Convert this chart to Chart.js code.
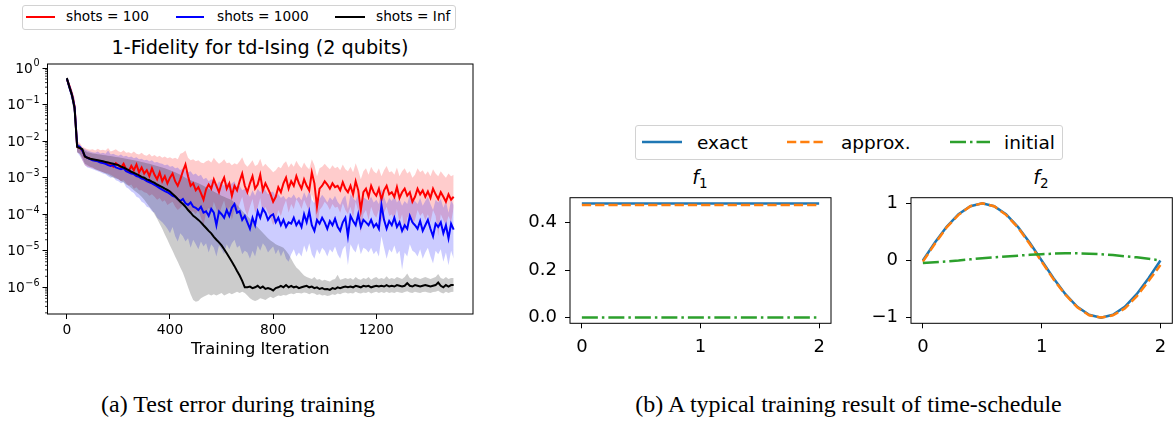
<!DOCTYPE html>
<html><head><meta charset="utf-8">
<script src="https://cdn.jsdelivr.net/npm/chart.js@4.4.1/dist/chart.umd.min.js"></script>
<style>
html,body{margin:0;padding:0;background:#fff;}
body{width:1175px;height:421px;position:relative;overflow:hidden;font-family:'DejaVu Sans',sans-serif;color:#000;}
.leg{position:absolute;box-sizing:border-box;border:1px solid #d2d2d2;border-radius:3px;background:#fff;}
.t{position:absolute;white-space:nowrap;}
.sw{position:absolute;overflow:visible;}
canvas{position:absolute;}
.cap{position:absolute;white-space:nowrap;font-family:'Liberation Serif','Times New Roman',serif;font-size:24px;line-height:27px;text-align:center;}
sub{font-size:13.5px;vertical-align:-0.3em;line-height:0;font-style:normal;}
</style></head><body>

<!-- left legend -->
<div class="leg" style="left:22px;top:5px;width:434px;height:25px;"></div>
<svg class="sw" style="left:26px;top:12px" width="30" height="10"><line x1="0" y1="5" x2="29" y2="5" stroke="#ff0000" stroke-width="2"/></svg>
<div class="t" style="left:66px;top:8px;font-size:13.7px;line-height:16px">shots = 100</div>
<svg class="sw" style="left:176px;top:12px" width="30" height="10"><line x1="0" y1="5" x2="28" y2="5" stroke="#0000ff" stroke-width="2"/></svg>
<div class="t" style="left:217px;top:8px;font-size:13.7px;line-height:16px">shots = 1000</div>
<svg class="sw" style="left:335px;top:12px" width="32" height="10"><line x1="0" y1="5" x2="30" y2="5" stroke="#000000" stroke-width="2"/></svg>
<div class="t" style="left:376px;top:8px;font-size:13.7px;line-height:16px">shots = Inf</div>

<div class="t" style="left:0;width:520px;text-align:center;top:37px;font-size:19.2px;line-height:22px">1-Fidelity for td-Ising (2 qubits)</div>

<!-- right legend -->
<div class="leg" style="left:635px;top:125px;width:428px;height:35px;"></div>
<svg class="sw" style="left:642px;top:137px" width="42" height="10"><line x1="0" y1="5" x2="40" y2="5" stroke="#1f77b4" stroke-width="2.5"/></svg>
<div class="t" style="left:697px;top:132px;font-size:18.5px;line-height:22px">exact</div>
<svg class="sw" style="left:787px;top:137px" width="42" height="10"><line x1="0" y1="5" x2="38.5" y2="5" stroke="#ff7f0e" stroke-width="2.5" stroke-dasharray="9.25 4"/></svg>
<div class="t" style="left:841px;top:132px;font-size:18.5px;line-height:22px">approx.</div>
<svg class="sw" style="left:950px;top:137px" width="42" height="10"><line x1="0" y1="5" x2="40" y2="5" stroke="#2ca02c" stroke-width="2.5" stroke-dasharray="16 4 2.5 4"/></svg>
<div class="t" style="left:1004px;top:132px;font-size:18.5px;line-height:22px">initial</div>

<div class="t" style="left:650px;width:100px;text-align:center;top:166px;font-size:19px;line-height:22px"><i>f</i><sub>1</sub></div>
<div class="t" style="left:991px;width:100px;text-align:center;top:166px;font-size:19px;line-height:22px"><i>f</i><sub>2</sub></div>

<canvas id="cA" width="480" height="360" style="left:0;top:0"></canvas>
<canvas id="cB" width="335" height="190" style="left:505px;top:175px"></canvas>
<canvas id="cC" width="315" height="190" style="left:860px;top:175px"></canvas>

<div class="cap" style="left:0;width:476px;top:391px">(a) Test error during training</div>
<div class="cap" style="left:600px;width:497px;top:391px">(b) A typical training result of time-schedule</div>

<script>
// ---------------- data: (a) 1-Fidelity vs training iteration ----------------
const iterations = [
0,10,20,30,40,50,60,70,80,90,
100,110,120,130,140,150,160,170,180,190,
200,210,220,230,240,250,260,270,280,290,
300,310,320,330,340,350,360,370,380,390,
400,410,420,430,440,450,460,470,480,490,
500,510,520,530,540,550,560,570,580,590,
600,610,620,630,640,650,660,670,680,690,
700,710,720,730,740,750,760,770,780,790,
800,810,820,830,840,850,860,870,880,890,
900,910,920,930,940,950,960,970,980,990,
1000,1010,1020,1030,1040,1050,1060,1070,1080,1090,
1100,1110,1120,1130,1140,1150,1160,1170,1180,1190,
1200,1210,1220,1230,1240,1250,1260,1270,1280,1290,
1300,1310,1320,1330,1340,1350,1360,1370,1380,1390,
1400,1410,1420,1430,1440,1450,1460,1470,1480,1490,
1500];

const shots100Mean = [
5.0e-1,3.2e-1,1.9e-1,9e-2,7.0e-3,6.5e-3,5.5e-3,3.8e-3,3.5e-3,3.3e-3,
3.1e-3,3.0e-3,2.9e-3,2.7e-3,2.6e-3,2.5e-3,2.3e-3,2.4e-3,2.0e-3,2.5e-3,
2.2e-3,1.9e-3,2.4e-3,1.7e-3,1.5e-3,2.1e-3,1.6e-3,2.3e-3,1.4e-3,1.9e-3,
1.3e-3,1.6e-3,1.1e-3,1.8e-3,1.2e-3,9e-4,1.4e-3,8e-4,1.1e-3,7e-4,
1.0e-3,1.3e-3,8e-4,6e-4,9e-4,1.5e-3,2.3e-3,1.1e-3,6e-4,7e-4,
4.5e-4,5.5e-4,3.8e-4,2.5e-4,4.8e-4,6.5e-4,5e-4,9e-4,6e-4,4e-4,
7e-4,1.0e-3,5e-4,7e-4,3.2e-4,6e-4,4.5e-4,8e-4,1.3e-3,6e-4,
4e-4,7e-4,1.1e-3,5e-4,6.5e-4,1.2e-3,4.5e-4,7e-4,5e-4,3.5e-4,
2.2e-4,3e-4,5.5e-4,4e-4,7e-4,1.0e-3,5e-4,8e-4,6e-4,1.1e-3,
7e-4,5e-4,9e-4,6e-4,4.5e-4,1.4e-3,7e-4,1.6e-4,5e-4,6e-4,
8e-4,6.5e-4,5e-4,7e-4,5.5e-4,6e-4,4.5e-4,7.5e-4,5e-4,4e-4,
6e-4,3.5e-4,8e-4,4.5e-4,1.3e-4,4e-4,5e-4,3e-4,6e-4,4e-4,
3.2e-4,5e-4,2.5e-4,4.5e-4,6e-4,3.5e-4,4e-4,3e-4,5.5e-4,2.8e-4,
4e-4,5e-4,3.2e-4,4e-4,2.2e-4,3e-4,5e-4,3.5e-4,4.5e-4,3e-4,
4.2e-4,2.8e-4,5e-4,3.5e-4,2.6e-4,4e-4,3e-4,2.2e-4,3.5e-4,2.5e-4,
3e-4];
const shots100Upper = [
6e-1,4e-1,2.6e-1,1.5e-1,1.0e-2,9e-3,7e-3,6.5e-3,6e-3,5.8e-3,
6e-3,5.5e-3,6.2e-3,5.6e-3,5.8e-3,5.5e-3,6.5e-3,5.2e-3,5.5e-3,6e-3,
5.3e-3,5e-3,5.6e-3,4.8e-3,5e-3,4.6e-3,5.2e-3,4.5e-3,4.3e-3,4.8e-3,
4.2e-3,4e-3,4.5e-3,3.8e-3,4.2e-3,3.7e-3,4e-3,3.5e-3,3.8e-3,3.4e-3,
3.6e-3,3.3e-3,3.5e-3,3.2e-3,4.5e-3,4.8e-3,5.5e-3,3.5e-3,3e-3,3.2e-3,
2.8e-3,3e-3,2.6e-3,2.5e-3,2.8e-3,3e-3,2.6e-3,3.5e-3,2.8e-3,2.4e-3,
2.7e-3,3.2e-3,2.5e-3,2.6e-3,2.2e-3,2.5e-3,2.3e-3,2.8e-3,3.6e-3,2.4e-3,
2e-3,2.4e-3,3e-3,2.1e-3,2.3e-3,3.3e-3,2e-3,2.4e-3,2e-3,1.7e-3,
1.4e-3,1.6e-3,2e-3,1.8e-3,2.4e-3,2.8e-3,1.9e-3,2.5e-3,2e-3,2.9e-3,
2.2e-3,1.8e-3,2.6e-3,2e-3,1.7e-3,3.2e-3,2.2e-3,1.1e-3,1.8e-3,2e-3,
2.4e-3,2e-3,1.7e-3,2.2e-3,1.8e-3,2e-3,1.6e-3,2.3e-3,1.7e-3,1.5e-3,
2e-3,1.4e-3,2.5e-3,1.6e-3,9e-4,1.5e-3,1.8e-3,1.2e-3,2e-3,1.5e-3,
1.3e-3,1.8e-3,1.1e-3,1.6e-3,2.1e-3,1.4e-3,1.5e-3,1.2e-3,1.9e-3,1.1e-3,
1.5e-3,1.8e-3,1.3e-3,1.5e-3,1e-3,1.2e-3,1.8e-3,1.4e-3,1.6e-3,1.2e-3,
1.5e-3,1.1e-3,1.7e-3,1.3e-3,1.1e-3,1.5e-3,1.2e-3,1e-3,1.3e-3,1.1e-3,
1.2e-3];
const shots100Lower = [
4e-1,2.5e-1,1.3e-1,5e-2,5e-3,4.5e-3,3e-3,2.2e-3,2e-3,1.9e-3,
1.8e-3,1.7e-3,1.6e-3,1.5e-3,1.4e-3,1.35e-3,1.3e-3,1.2e-3,1.1e-3,1.0e-3,
9e-4,8e-4,8.5e-4,7e-4,6e-4,6.5e-4,5e-4,5.5e-4,4.5e-4,4.5e-4,
4e-4,3.8e-4,3.2e-4,3.5e-4,3e-4,2.5e-4,2.8e-4,2.2e-4,2.4e-4,1.8e-4,
2e-4,2.2e-4,1.6e-4,1.3e-4,1.5e-4,1.8e-4,2e-4,1.4e-4,1.1e-4,1.2e-4,
1e-4,1.3e-4,8e-5,5e-5,1.1e-4,1.5e-4,1.1e-4,2.2e-4,1.4e-4,9e-5,
1.6e-4,2.4e-4,1.1e-4,1.6e-4,7e-5,1.4e-4,1e-4,1.9e-4,3e-4,1.4e-4,
9e-5,1.6e-4,2.6e-4,1.1e-4,1.5e-4,2.8e-4,1e-4,1.6e-4,1.1e-4,8e-5,
5e-5,7e-5,1.3e-4,9e-5,1.6e-4,2.4e-4,1.1e-4,1.9e-4,1.4e-4,2.6e-4,
2e-4,1.4e-4,2.5e-4,1.7e-4,1.2e-4,3.5e-4,1.9e-4,4e-5,1.3e-4,1.6e-4,
2.2e-4,1.8e-4,1.3e-4,1.9e-4,1.5e-4,1.6e-4,1.1e-4,2e-4,1.3e-4,1e-4,
1.6e-4,8e-5,2.2e-4,1.2e-4,3e-5,1e-4,1.3e-4,7e-5,1.6e-4,1e-4,
8e-5,1.3e-4,6e-5,1.1e-4,1.6e-4,9e-5,1e-4,7e-5,1.4e-4,6e-5,
1e-4,3e-5,8e-5,1e-4,5e-5,7e-5,1.3e-4,9e-5,1.1e-4,7e-5,
1e-4,6e-5,1.3e-4,9e-5,2.5e-5,1e-4,7e-5,5e-5,9e-5,6e-5,
1.5e-4];

const shots1000Mean = [
5.2e-1,3.0e-1,1.8e-1,8.5e-2,7.5e-3,7e-3,5.5e-3,3.9e-3,3.5e-3,3.2e-3,
3.0e-3,2.9e-3,2.8e-3,2.6e-3,2.5e-3,2.4e-3,2.2e-3,2.1e-3,2.2e-3,1.9e-3,
1.8e-3,1.7e-3,1.8e-3,1.5e-3,1.4e-3,1.3e-3,1.25e-3,1.1e-3,1.05e-3,9.5e-4,
9e-4,8e-4,7.5e-4,7e-4,6.3e-4,5.8e-4,5.2e-4,4.7e-4,4.3e-4,4e-4,
3.6e-4,3.2e-4,3.0e-4,2.6e-4,2.3e-4,2.6e-4,2e-4,1.8e-4,2.1e-4,1.6e-4,
1.5e-4,1.3e-4,1.6e-4,1.1e-4,1.2e-4,9e-5,1.4e-4,1.1e-4,5e-5,1.2e-4,
1.0e-4,8e-5,1.3e-4,9e-5,1.5e-4,1.9e-4,1.1e-4,1.2e-4,7e-5,9e-5,
6e-5,4e-5,8e-5,5e-5,1.2e-4,8e-5,1.4e-4,1.1e-4,7e-5,9e-5,
1.0e-4,6e-5,8e-5,5e-5,7e-5,4.5e-5,6e-5,5.5e-5,8e-5,5e-5,
6.5e-5,4.5e-5,1.0e-4,6e-5,1.2e-4,5e-5,3.5e-5,7e-5,5.5e-5,8e-5,
6e-5,4e-5,6.5e-5,5e-5,7.5e-5,4.5e-5,3.5e-5,6e-5,8e-5,2.5e-5,
9e-5,6.5e-5,5e-5,1.0e-4,4.5e-5,7e-5,6e-5,5e-5,7e-5,4.5e-5,
5.5e-5,4e-5,1.8e-4,7e-5,4e-5,6.5e-5,5e-5,8e-5,4.5e-5,6e-5,
3.5e-5,5e-5,4e-5,9e-5,6e-5,5e-5,4e-5,6.5e-5,3.5e-5,5e-5,
7e-5,4e-5,2.5e-5,5.5e-5,4.5e-5,6e-5,3e-5,5e-5,2.2e-5,5.5e-5,
3.8e-5];
const shots1000Upper = [
6e-1,4e-1,2.5e-1,1.4e-1,9e-3,8e-3,6.5e-3,6e-3,5.5e-3,5.2e-3,
5e-3,4.8e-3,5.2e-3,4.6e-3,4.8e-3,4.5e-3,5.5e-3,4.3e-3,4.5e-3,4.2e-3,
4e-3,4.3e-3,3.8e-3,4e-3,3.6e-3,3.8e-3,3.4e-3,3.6e-3,3.2e-3,3.3e-3,
3e-3,3.1e-3,2.8e-3,3e-3,2.6e-3,2.7e-3,2.5e-3,2.4e-3,2.2e-3,2.3e-3,
2e-3,2.1e-3,1.8e-3,1.9e-3,1.6e-3,1.8e-3,1.5e-3,1.4e-3,1.5e-3,1.2e-3,
1.3e-3,1.1e-3,1.2e-3,9e-4,1e-3,8e-4,9e-4,8.5e-4,6e-4,8e-4,
7e-4,6e-4,7.5e-4,6e-4,7e-4,8e-4,5.5e-4,6e-4,4.5e-4,5e-4,
4e-4,3e-4,4.5e-4,3.2e-4,5e-4,4e-4,5.5e-4,4.5e-4,3.5e-4,4e-4,
4.2e-4,3e-4,3.6e-4,2.8e-4,3.2e-4,2.5e-4,3e-4,2.8e-4,3.5e-4,2.6e-4,
3e-4,2.4e-4,4e-4,2.8e-4,4.5e-4,2.5e-4,2e-4,3e-4,2.6e-4,3.4e-4,
2.8e-4,2.1e-4,2.9e-4,2.4e-4,3.2e-4,2.2e-4,1.8e-4,2.7e-4,3.3e-4,1.4e-4,
3.6e-4,2.8e-4,2.3e-4,3.9e-4,2.1e-4,2.9e-4,2.6e-4,2.3e-4,3e-4,2.1e-4,
2.5e-4,1.9e-4,5e-4,3e-4,1.9e-4,2.8e-4,2.3e-4,3.3e-4,2.1e-4,2.6e-4,
1.7e-4,2.3e-4,1.9e-4,3.6e-4,2.6e-4,2.3e-4,1.9e-4,2.8e-4,1.7e-4,2.3e-4,
3e-4,1.9e-4,1.3e-4,2.5e-4,2.1e-4,2.6e-4,1.5e-4,2.3e-4,1.1e-4,2.4e-4,
1.8e-4];
const shots1000Lower = [
4e-1,2.2e-1,1.2e-1,4.5e-2,5e-3,4e-3,3e-3,2.2e-3,1.9e-3,1.8e-3,
1.7e-3,1.6e-3,1.5e-3,1.4e-3,1.3e-3,1.25e-3,1.1e-3,1.0e-3,1.05e-3,8.5e-4,
8e-4,7e-4,7.5e-4,5.5e-4,5e-4,4.2e-4,3.8e-4,3e-4,2.8e-4,2.2e-4,
2e-4,1.6e-4,1.5e-4,1.2e-4,1.1e-4,8e-5,7e-5,6e-5,5e-5,4e-5,
3e-5,4.5e-5,2.5e-5,1.8e-5,3e-5,2.5e-5,1.8e-5,2.2e-5,1.2e-5,2e-5,
1.5e-5,1.1e-5,1.8e-5,1.3e-5,1.6e-5,9e-6,1.5e-5,1.2e-5,7e-6,1.4e-5,
1.1e-5,8e-6,1.5e-5,1.1e-5,1.6e-5,2e-5,1.2e-5,1.4e-5,8e-6,1e-5,
9e-6,6e-6,1e-5,7e-6,1.4e-5,1e-5,1.6e-5,1.3e-5,9e-6,1.1e-5,
1.3e-5,8e-6,1.1e-5,7e-6,1e-5,6e-6,5e-6,8e-6,1.1e-5,7e-6,
9e-6,7e-6,1.4e-5,9e-6,1.6e-5,8e-6,6e-6,1.1e-5,8e-6,1.2e-5,
1e-5,7e-6,1.1e-5,9e-6,1.3e-5,8e-6,6e-6,1.1e-5,1.4e-5,4e-6,
1.5e-5,1.1e-5,9e-6,1.6e-5,8e-6,1.2e-5,1.1e-5,9e-6,1.2e-5,8e-6,
1e-5,7e-6,2.5e-5,1.2e-5,6e-6,1.1e-5,9e-6,1.4e-5,8e-6,1e-5,
3e-6,9e-6,7e-6,1.5e-5,1e-5,9e-6,7e-6,1.1e-5,6e-6,9e-6,
1.2e-5,7e-6,4.5e-6,1e-5,8e-6,1.1e-5,5e-6,9e-6,4e-6,1e-5,
6e-6];

const shotsInfMean = [
5.3e-1,3.0e-1,1.8e-1,8e-2,7e-3,6.5e-3,6e-3,3.8e-3,3.5e-3,3.3e-3,
3.2e-3,3.1e-3,3.0e-3,2.9e-3,2.8e-3,2.7e-3,2.6e-3,2.5e-3,2.4e-3,2.3e-3,
2.2e-3,2.0e-3,1.9e-3,1.75e-3,1.6e-3,1.45e-3,1.35e-3,1.25e-3,1.15e-3,1.05e-3,
1.0e-3,9e-4,8.5e-4,7.8e-4,7.2e-4,6.5e-4,6e-4,5.5e-4,5e-4,4.6e-4,
4.2e-4,3.6e-4,3.1e-4,2.6e-4,2.2e-4,1.9e-4,1.6e-4,1.3e-4,1.1e-4,9e-5,
8e-5,7e-5,6e-5,5e-5,4.2e-5,3.5e-5,3e-5,2.4e-5,2e-5,1.7e-5,
1.4e-5,1.1e-5,8.5e-6,6.5e-6,5e-6,3.8e-6,2.8e-6,2.1e-6,1.5e-6,1.0e-6,
1.0e-6,1.05e-6,9.5e-7,1.0e-6,1.1e-6,9.5e-7,1.05e-6,9e-7,9.5e-7,9e-7,
8.2e-7,9.5e-7,1.0e-6,1.1e-6,1.0e-6,1.15e-6,1.0e-6,1.1e-6,1.0e-6,1.05e-6,
9.5e-7,1.0e-6,1.05e-6,1.1e-6,1.0e-6,1.05e-6,9.5e-7,1.0e-6,9e-7,9.5e-7,
8.8e-7,9e-7,8.5e-7,9.5e-7,9e-7,1.0e-6,9.5e-7,1.0e-6,1.05e-6,1.0e-6,
1.05e-6,1.0e-6,1.1e-6,1.05e-6,1.0e-6,1.1e-6,1.05e-6,1.1e-6,1.0e-6,1.05e-6,
1.1e-6,1.05e-6,1.1e-6,1.05e-6,1.15e-6,1.05e-6,1.1e-6,1.05e-6,1.15e-6,1.1e-6,
1.05e-6,1.1e-6,1.3e-6,1.1e-6,1.05e-6,1.15e-6,1.1e-6,1.05e-6,1.1e-6,1.15e-6,
1.1e-6,1.05e-6,1.1e-6,1.15e-6,1.35e-6,1.1e-6,1.0e-6,1.15e-6,1.05e-6,1.15e-6,
1.15e-6];
const shotsInfUpper = [
6e-1,3.8e-1,2.4e-1,1.3e-1,9e-3,8e-3,6.5e-3,5.5e-3,5e-3,4.8e-3,
4.6e-3,4.5e-3,4.4e-3,4.3e-3,4.2e-3,4.1e-3,4e-3,3.9e-3,3.8e-3,3.7e-3,
3.6e-3,3.5e-3,3.4e-3,3.3e-3,3.2e-3,3.1e-3,3e-3,2.9e-3,2.8e-3,2.7e-3,
2.6e-3,2.5e-3,2.4e-3,2.3e-3,2.2e-3,2.1e-3,2.0e-3,1.9e-3,1.8e-3,1.7e-3,
1.6e-3,1.5e-3,1.4e-3,1.3e-3,1.2e-3,1.1e-3,1.0e-3,9e-4,8.5e-4,8e-4,
7.5e-4,7e-4,6.5e-4,6e-4,5.5e-4,5e-4,4.6e-4,4.2e-4,3.8e-4,3.5e-4,
3.2e-4,3e-4,2.8e-4,2.6e-4,2.4e-4,2.1e-4,1.8e-4,1.5e-4,1.25e-4,1.05e-4,
9e-5,7.5e-5,6.2e-5,5.2e-5,4.4e-5,3.7e-5,3.1e-5,2.6e-5,2.2e-5,1.9e-5,
1.7e-5,1.5e-5,1.4e-5,1.3e-5,1.2e-5,1.0e-5,8e-6,6e-6,4.5e-6,3.5e-6,
3e-6,2.5e-6,2.1e-6,1.9e-6,1.8e-6,1.7e-6,1.9e-6,1.6e-6,1.7e-6,1.5e-6,
1.6e-6,1.5e-6,1.45e-6,1.6e-6,1.7e-6,2.2e-6,1.6e-6,1.7e-6,1.8e-6,1.7e-6,
1.8e-6,1.6e-6,1.9e-6,1.7e-6,1.6e-6,1.8e-6,1.7e-6,1.9e-6,1.6e-6,1.8e-6,
1.9e-6,1.7e-6,1.8e-6,1.7e-6,2.0e-6,1.7e-6,1.8e-6,1.7e-6,1.9e-6,1.8e-6,
1.7e-6,1.9e-6,2.4e-6,1.8e-6,1.7e-6,1.9e-6,1.8e-6,1.7e-6,1.8e-6,1.9e-6,
1.8e-6,1.7e-6,1.8e-6,1.9e-6,2.3e-6,1.8e-6,1.7e-6,1.9e-6,1.7e-6,1.8e-6,
1.8e-6];
const shotsInfLower = [
4.5e-1,2.4e-1,1.3e-1,5e-2,5e-3,4.5e-3,3.5e-3,2.4e-3,2.2e-3,2.0e-3,
1.9e-3,1.7e-3,1.6e-3,1.5e-3,1.4e-3,1.3e-3,1.2e-3,1.1e-3,1.0e-3,9.5e-4,
9e-4,8e-4,7.5e-4,6.5e-4,6e-4,5.2e-4,4.5e-4,4e-4,3.5e-4,3e-4,
2.5e-4,2e-4,1.6e-4,1.3e-4,1.0e-4,7.5e-5,5.5e-5,4e-5,2.8e-5,2e-5,
1.4e-5,1e-5,7e-6,5e-6,3.5e-6,2.5e-6,1.6e-6,1.0e-6,6.5e-7,4.5e-7,
4e-7,4.2e-7,5e-7,5.5e-7,6e-7,6.5e-7,6e-7,6.5e-7,6e-7,6.5e-7,
7e-7,6e-7,6.5e-7,7e-7,6.5e-7,7e-7,7.5e-7,7e-7,7.5e-7,7e-7,
6e-7,5e-7,4.5e-7,4.2e-7,4.5e-7,5e-7,4.8e-7,4.5e-7,5e-7,5.5e-7,
5e-7,5.5e-7,6e-7,5.8e-7,6.2e-7,6e-7,6.5e-7,6.8e-7,6.5e-7,7e-7,
7e-7,6.8e-7,7.2e-7,7e-7,6.5e-7,7e-7,6.8e-7,6.2e-7,6.5e-7,6e-7,
6.2e-7,5.8e-7,6e-7,6.5e-7,6.2e-7,6.8e-7,6.5e-7,7e-7,7.2e-7,6.8e-7,
7e-7,6.8e-7,7.5e-7,7e-7,6.8e-7,7.2e-7,7e-7,7.5e-7,6.8e-7,7.2e-7,
7.5e-7,7e-7,7.4e-7,7e-7,7.6e-7,7e-7,7.3e-7,7e-7,7.5e-7,7.2e-7,
7e-7,7.4e-7,7.8e-7,7.2e-7,7e-7,7.5e-7,7.2e-7,7e-7,7.4e-7,7.6e-7,
7.2e-7,7e-7,7.4e-7,7.5e-7,8e-7,7.2e-7,6.8e-7,7.5e-7,7e-7,7.4e-7,
7.5e-7];

const xTicksA = [0, 400, 800, 1200];
const yTicksA = [1e-6, 1e-5, 1e-4, 1e-3, 1e-2, 1e-1, 1];

// ---------------- data: (b) time-schedule functions ----------------
const tGrid = [0,0.1,0.2,0.3,0.4,0.5,0.6,0.7,0.8,0.9,1.0,1.1,1.2,1.3,1.4,1.5,1.6,1.7,1.8,1.9,2.0];
const f1Exact   = [0.48,0.48,0.48,0.48,0.48,0.48,0.48,0.48,0.48,0.48,0.48,0.48,0.48,0.48,0.48,0.48,0.48,0.48,0.48,0.48,0.48];
const f1Approx  = [0.473,0.473,0.473,0.473,0.473,0.473,0.473,0.473,0.473,0.473,0.473,0.473,0.473,0.473,0.473,0.473,0.473,0.473,0.473,0.473,0.473];
const f1Initial = [0,0,0,0,0,0,0,0,0,0,0,0,0,0,0,0,0,0,0,0,0];
const f2Exact   = [0,0.31,0.59,0.81,0.95,1.0,0.95,0.81,0.59,0.31,0,-0.31,-0.59,-0.81,-0.95,-1.0,-0.95,-0.81,-0.59,-0.31,0];
const f2Approx  = [-0.02,0.29,0.58,0.8,0.95,1.0,0.95,0.8,0.58,0.29,-0.02,-0.33,-0.6,-0.82,-0.96,-1.0,-0.96,-0.84,-0.63,-0.36,-0.08];
const f2Initial = [-0.045,-0.03,-0.015,0.0,0.02,0.04,0.055,0.07,0.085,0.1,0.11,0.12,0.125,0.125,0.12,0.11,0.095,0.075,0.055,0.03,0.0];
const xTicksB = [0, 1, 2];
const yTicksF1 = [0, 0.2, 0.4];
const yTicksF2 = [-1, 0, 1];

// ---------------- rendering ----------------
Chart.defaults.font.family = "'DejaVu Sans', sans-serif";
Chart.defaults.color = '#000';

const pts = (xs, ys) => xs.map((x, i) => ({x: x, y: ys[i]}));

const spines = {
  id: 'spines',
  afterDraw(chart) {
    const a = chart.chartArea, ctx = chart.ctx;
    ctx.save();
    ctx.strokeStyle = '#000';
    ctx.lineWidth = 1;
    ctx.strokeRect(a.left, a.top, a.right - a.left, a.bottom - a.top);
    ctx.restore();
  }
};
const minorLogTicks = {
  id: 'minorLogTicks',
  afterDraw(chart) {
    const y = chart.scales.y, ctx = chart.ctx, left = chart.chartArea.left;
    ctx.save();
    ctx.strokeStyle = '#000';
    ctx.lineWidth = 0.8;
    for (let d = -8; d <= 0; d++) {
      for (let k = 2; k <= 9; k++) {
        const v = k * Math.pow(10, d);
        if (v < y.min || v > y.max) continue;
        const py = y.getPixelForValue(v);
        ctx.beginPath();
        ctx.moveTo(left, py);
        ctx.lineTo(left - 2.5, py);
        ctx.stroke();
      }
    }
    ctx.restore();
  }
};
// "10" with a raised, smaller exponent, like mathtext tick labels
const logTickLabels = {
  id: 'logTickLabels',
  afterDraw(chart) {
    const y = chart.scales.y, ctx = chart.ctx, right = chart.chartArea.left - 8;
    ctx.save();
    ctx.fillStyle = '#000';
    ctx.textAlign = 'right';
    ctx.textBaseline = 'alphabetic';
    for (const v of yTicksA) {
      const py = y.getPixelForValue(v);
      const e = Math.round(Math.log10(v));
      const es = e < 0 ? '\u2212' + (-e) : String(e);
      ctx.font = "9.6px 'DejaVu Sans'";
      const ew = ctx.measureText(es).width;
      ctx.fillText(es, right, py - 1.6);
      ctx.font = "13.8px 'DejaVu Sans'";
      ctx.fillText('10', right - ew - 0.5, py + 4.6);
    }
    ctx.restore();
  }
};

const tickGrid = {display: true, drawOnChartArea: false, drawTicks: true, tickLength: 5, color: '#000', lineWidth: 1};
const band = (ys, color, fill, order) => ({
  data: pts(iterations, ys), borderColor: 'rgba(0,0,0,0)', borderWidth: 1,
  backgroundColor: color, fill: fill, pointRadius: 0, order: order
});
const line = (ys, color, order) => ({
  data: pts(iterations, ys), borderColor: color, borderWidth: 2,
  fill: false, pointRadius: 0, order: order
});

new Chart(document.getElementById('cA'), {
  type: 'line',
  data: {
    datasets: [
      band(shots100Upper, 'rgba(255,0,0,0.2)', '+1', 9),
      band(shots100Lower, 'rgba(255,0,0,0.2)', false, 9),
      band(shots1000Upper, 'rgba(0,0,255,0.2)', '+1', 8),
      band(shots1000Lower, 'rgba(0,0,255,0.2)', false, 8),
      band(shotsInfUpper, 'rgba(0,0,0,0.2)', '+1', 7),
      band(shotsInfLower, 'rgba(0,0,0,0.2)', false, 7),
      line(shots100Mean, '#ff0000', 3),
      line(shots1000Mean, '#0000ff', 2),
      line(shotsInfMean, '#000000', 1)
    ]
  },
  options: {
    responsive: false, devicePixelRatio: 1, animation: false,
    layout: {autoPadding: false, padding: {left: 0, right: 7, top: 64, bottom: 0}},
    plugins: {legend: {display: false}, tooltip: {enabled: false}},
    elements: {line: {tension: 0}},
    scales: {
      x: {
        type: 'linear', min: -75, max: 1575,
        afterBuildTicks: s => { s.ticks = xTicksA.map(v => ({value: v})); },
        afterFit: s => { s.height = 46; },
        grid: tickGrid, border: {display: false},
        ticks: {font: {size: 13.8}, color: '#000', padding: 3, maxRotation: 0, autoSkip: false, callback: v => String(v)},
        title: {display: true, text: 'Training Iteration', font: {size: 16.3}, color: '#000', padding: {top: 0, bottom: 0}}
      },
      y: {
        type: 'logarithmic', min: 1.86e-7, max: 1.29,
        afterBuildTicks: s => { s.ticks = yTicksA.map(v => ({value: v})); },
        afterFit: s => { s.width = 47.5; },
        grid: tickGrid, border: {display: false},
        ticks: {font: {size: 13.8}, color: '#000', padding: 3, autoSkip: false, callback: () => ''}
      }
    }
  },
  plugins: [spines, minorLogTicks, logTickLabels]
});

const fLine = (ys, color, dash, order) => ({
  data: pts(tGrid, ys), borderColor: color, borderWidth: 2.5, borderDash: dash,
  fill: false, pointRadius: 0, order: order, tension: 0
});
function fChart(id, exact, approx, initial, ymin, ymax, yTicks, yFmt, yWidth, rightPad) {
  new Chart(document.getElementById(id), {
    type: 'line',
    data: {datasets: [
      fLine(exact, '#1f77b4', [], 3),
      fLine(approx, '#ff7f0e', [9.25, 4], 2),
      fLine(initial, '#2ca02c', [16, 4, 2.5, 4], 1)
    ]},
    options: {
      responsive: false, devicePixelRatio: 1, animation: false,
      layout: {autoPadding: false, padding: {left: 0, right: rightPad, top: 22.7, bottom: 0}},
      plugins: {legend: {display: false}, tooltip: {enabled: false}},
      scales: {
        x: {
          type: 'linear', min: -0.1, max: 2.1,
          afterBuildTicks: s => { s.ticks = xTicksB.map(v => ({value: v})); },
          afterFit: s => { s.height = 41.7; },
          grid: tickGrid, border: {display: false},
          ticks: {font: {size: 18}, color: '#000', padding: 8, maxRotation: 0, autoSkip: false, callback: v => String(v)}
        },
        y: {
          type: 'linear', min: ymin, max: ymax,
          afterBuildTicks: s => { s.ticks = yTicks.map(v => ({value: v})); },
          afterFit: s => { s.width = yWidth; },
          grid: tickGrid, border: {display: false},
          ticks: {font: {size: 18}, color: '#000', padding: 8, autoSkip: false, callback: yFmt}
        }
      }
    },
    plugins: [spines]
  });
}
fChart('cB', f1Exact, f1Approx, f1Initial, -0.024, 0.504, yTicksF1, v => v.toFixed(1), 65, 9);
fChart('cC', f2Exact, f2Approx, f2Initial, -1.1, 1.1, yTicksF2, v => (v < 0 ? '\u2212' + Math.abs(v) : String(v)), 51, 2.7);
</script>
</body></html>
